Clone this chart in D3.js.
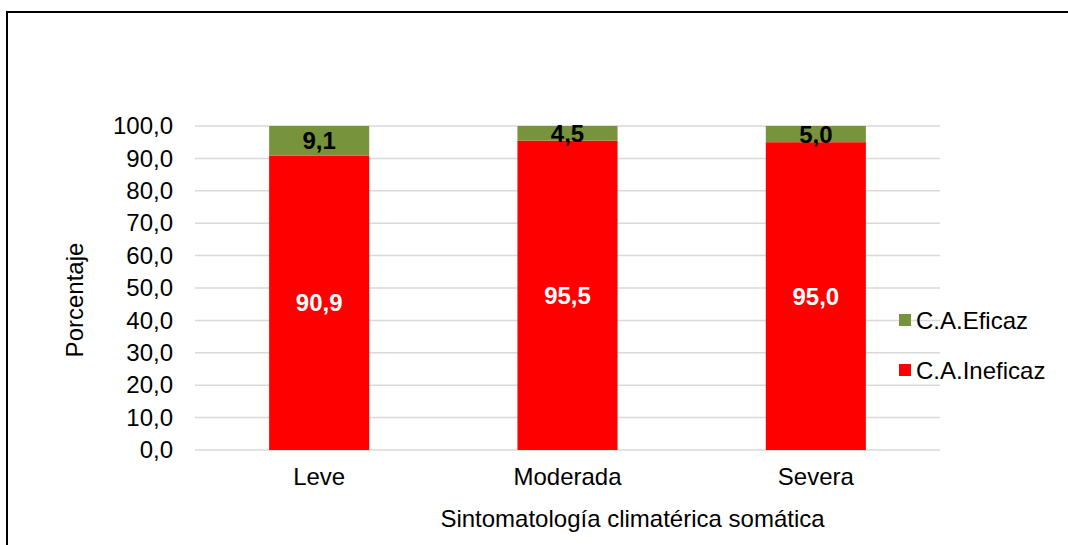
<!DOCTYPE html>
<html>
<head>
<meta charset="utf-8">
<script src="https://cdn.jsdelivr.net/npm/d3@7"></script>
<style>
  html, body { margin: 0; padding: 0; background: #fff; }
  svg { display: block; font-family: "Liberation Sans", Arial, sans-serif; }
</style>
</head>
<body>
<svg id="chart" width="1068" height="545"></svg>
<script>
// Categories and series (percentages)
const categories = ["Leve", "Moderada", "Severa"];
const ineficaz = [90.9, 95.5, 95.0];
const eficaz = [9.1, 4.5, 5.0];
const seriesNames = ["C.A.Ineficaz", "C.A.Eficaz"];
const yTicks = [0, 10, 20, 30, 40, 50, 60, 70, 80, 90, 100];

const colors = { "C.A.Ineficaz": "#ff0000", "C.A.Eficaz": "#77933c" };
const fmt = v => d3.format(".1f")(v).replace(".", ",");
const FS = 24;

const svg = d3.select("#chart");

// Outer frame
svg.append("rect")
  .attr("x", 7).attr("y", 12)
  .attr("width", 1080).attr("height", 560)
  .attr("fill", "none").attr("stroke", "#000").attr("stroke-width", 2);

const plot = { left: 195, right: 940, top: 126, bottom: 450 };

const x = d3.scaleBand()
  .domain(categories)
  .range([plot.left, plot.right])
  .paddingInner(0.597)
  .paddingOuter(0.2985);

const y = d3.scaleLinear().domain([0, 100]).range([plot.bottom, plot.top]);

// Gridlines
svg.append("g")
  .selectAll("line")
  .data(yTicks)
  .join("line")
  .attr("x1", plot.left).attr("x2", plot.right)
  .attr("y1", d => y(d)).attr("y2", d => y(d))
  .attr("stroke", "#d9d9d9").attr("stroke-width", 1.5);

// Y axis labels
const yAxis = d3.axisLeft(y).tickValues(yTicks).tickFormat(fmt).tickSize(0).tickPadding(22);
const gy = svg.append("g").attr("transform", `translate(${plot.left},0)`).call(yAxis);
gy.select(".domain").remove();
gy.selectAll("text").attr("font-size", FS).attr("fill", "#000")
  .attr("font-family", "Liberation Sans, Arial, sans-serif");

// X axis labels
const xAxis = d3.axisBottom(x).tickSize(0).tickPadding(18);
const gx = svg.append("g").attr("transform", `translate(0,${plot.bottom})`).call(xAxis);
gx.select(".domain").remove();
gx.selectAll("text").attr("font-size", FS).attr("fill", "#000")
  .attr("font-family", "Liberation Sans, Arial, sans-serif");

// Stack data
const rows = categories.map((c, i) => ({ cat: c, "C.A.Ineficaz": ineficaz[i], "C.A.Eficaz": eficaz[i] }));
const stacked = d3.stack().keys(seriesNames)(rows);

const layers = svg.append("g").selectAll("g")
  .data(stacked)
  .join("g")
  .attr("fill", d => colors[d.key]);

layers.selectAll("rect")
  .data(d => d)
  .join("rect")
  .attr("x", d => x(d.data.cat))
  .attr("width", x.bandwidth())
  .attr("y", d => y(d[1]))
  .attr("height", d => y(d[0]) - y(d[1]));

// Value labels
stacked.forEach(layer => {
  svg.append("g").selectAll("text")
    .data(layer)
    .join("text")
    .attr("x", d => x(d.data.cat) + x.bandwidth() / 2)
    .attr("y", d => (y(d[0]) + y(d[1])) / 2)
    .attr("dy", "0.36em")
    .attr("text-anchor", "middle")
    .attr("font-size", FS)
    .attr("font-weight", "bold")
    .attr("fill", layer.key === "C.A.Ineficaz" ? "#fff" : "#000")
    .text(d => fmt(d.data[layer.key]));
});

// Axis titles
svg.append("text")
  .attr("transform", `translate(83,300) rotate(-90)`)
  .attr("text-anchor", "middle")
  .attr("font-size", FS)
  .text("Porcentaje");

svg.append("text")
  .attr("x", (plot.left + plot.right) / 2 + 65)
  .attr("y", 527)
  .attr("text-anchor", "middle")
  .attr("font-size", FS)
  .text("Sintomatología climatérica somática");

// Legend
const legendItems = ["C.A.Eficaz", "C.A.Ineficaz"];
const legend = svg.append("g").selectAll("g")
  .data(legendItems)
  .join("g")
  .attr("transform", (d, i) => `translate(899,${314 + i * 50})`);
legend.append("rect").attr("width", 12).attr("height", 12).attr("fill", d => colors[d]);
legend.append("text")
  .attr("x", 17).attr("y", 6).attr("dy", "0.36em")
  .attr("font-size", FS)
  .text(d => d);
</script>
</body>
</html>
